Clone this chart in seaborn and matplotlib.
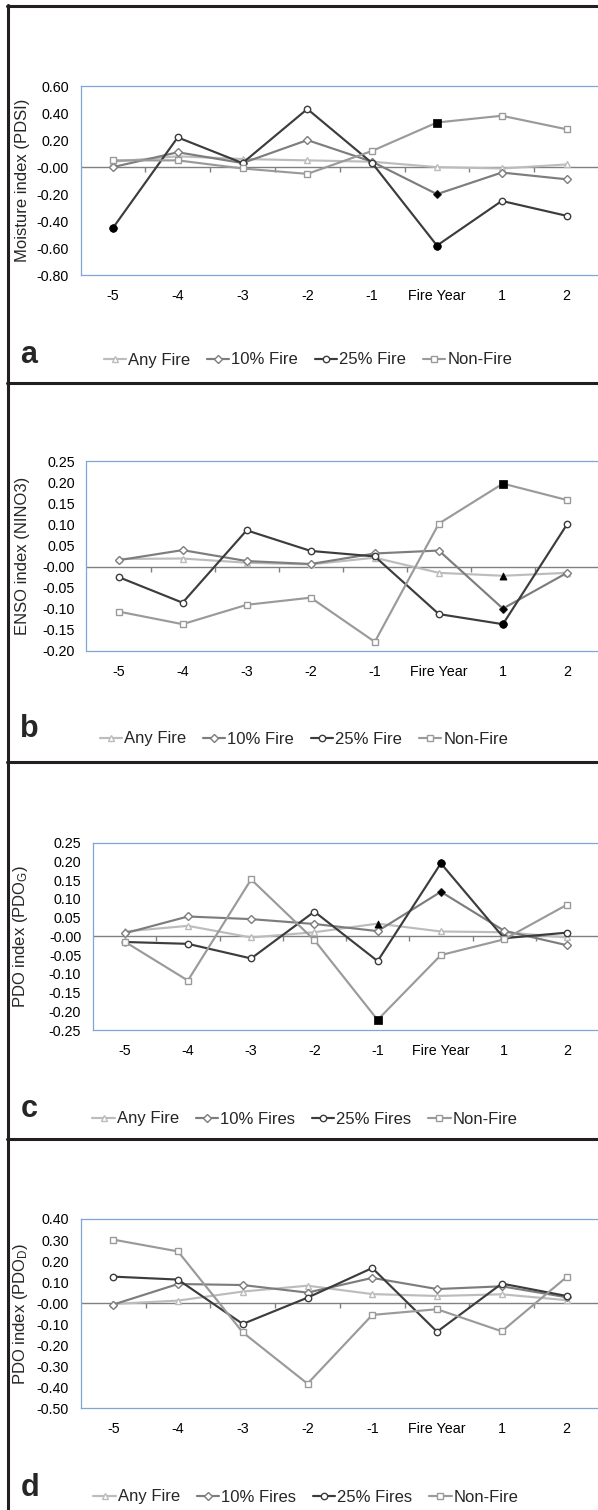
import numpy as np
import pandas as pd
import matplotlib
matplotlib.use("Agg")
import matplotlib.pyplot as plt
import seaborn as sns
from matplotlib.lines import Line2D
from matplotlib import transforms
from matplotlib.ticker import FormatStrFormatter

# ---------------- data ----------------
years = ["-5", "-4", "-3", "-2", "-1", "Fire Year", "1", "2"]

# (a) PDSI
pdsi_any = [0.04, 0.08, 0.06, 0.05, 0.04, 0.00, -0.01, 0.02]
pdsi_10 = [0.00, 0.11, 0.03, 0.20, 0.04, -0.20, -0.04, -0.09]
pdsi_25 = [-0.45, 0.22, 0.03, 0.43, 0.03, -0.58, -0.25, -0.36]
pdsi_non = [0.05, 0.05, -0.01, -0.05, 0.12, 0.33, 0.38, 0.28]

# (b) NINO3
nino_any = [0.018, 0.019, 0.009, 0.005, 0.021, -0.015, -0.022, -0.015]
nino_10 = [0.015, 0.039, 0.013, 0.006, 0.031, 0.038, -0.100, -0.015]
nino_25 = [-0.025, -0.086, 0.086, 0.037, 0.024, -0.113, -0.137, 0.100]
nino_non = [-0.107, -0.137, -0.091, -0.074, -0.179, 0.102, 0.197, 0.158]

# (c) PDO_G
pdog_any = [0.013, 0.028, -0.003, 0.011, 0.034, 0.013, 0.011, -0.003]
pdog_10 = [0.008, 0.053, 0.046, 0.033, 0.014, 0.119, 0.015, -0.024]
pdog_25 = [-0.015, -0.020, -0.059, 0.066, -0.066, 0.195, -0.005, 0.010]
pdog_non = [-0.014, -0.118, 0.152, -0.010, -0.223, -0.050, -0.008, 0.085]

# (d) PDO_D
pdod_any = [-0.004, 0.012, 0.055, 0.083, 0.043, 0.034, 0.042, 0.014]
pdod_10 = [-0.007, 0.091, 0.086, 0.050, 0.120, 0.067, 0.080, 0.028]
pdod_25 = [0.126, 0.112, -0.099, 0.026, 0.167, -0.136, 0.093, 0.034]
pdod_non = [0.302, 0.246, -0.139, -0.383, -0.056, -0.029, -0.134, 0.124]

# significant (filled) points: indices into years
sig_a = {"any": [], "p10": [5], "p25": [0, 5], "non": [5]}
sig_b = {"any": [6], "p10": [6], "p25": [6], "non": [6]}
sig_c = {"any": [4], "p10": [5], "p25": [5], "non": [4]}
sig_d = {"any": [], "p10": [], "p25": [], "non": []}

labels_ab = ["Any Fire", "10% Fire", "25% Fire", "Non-Fire"]
labels_cd = ["Any Fire", "10% Fires", "25% Fires", "Non-Fire"]

# ---------------- style ----------------
sns.set_theme(style="white")
plt.rcParams['font.family'] = ['Liberation Sans', 'DejaVu Sans']
plt.rcParams['axes.unicode_minus'] = False
plt.rcParams['mathtext.fontset'] = 'custom'
plt.rcParams['mathtext.rm'] = 'Liberation Sans'
plt.rcParams['mathtext.it'] = 'Liberation Sans:italic'

keys = ["any", "p10", "p25", "non"]
styles = {
    "any": dict(color="#bcbcbc", marker="^", ms=4.8, sig_s=26),
    "p10": dict(color="#7d7d7d", marker="D", ms=3.6, sig_s=14),
    "p25": dict(color="#3c3c3c", marker="o", ms=4.6, sig_s=30),
    "non": dict(color="#9a9a9a", marker="s", ms=4.6, sig_s=30),
}
BLUE = "#7ea6d6"
ZERO = "#808080"

W, H = 598, 1510
fig = plt.figure(figsize=(W / 100, H / 100), dpi=100)


def fx(px):
    return px / W


def fy(py):
    return 1 - py / H


def panel(top, bottom, left, series, sig, ylim, step, ylabel, ylab_x,
          letter, letter_pos, leg_labels, leg_center):
    right = 599
    ax = fig.add_axes([fx(left), fy(bottom), fx(right) - fx(left), (bottom - top) / H])
    for k, lab in zip(keys, leg_labels):
        st = styles[k]
        df = pd.DataFrame({"year": years, "value": series[k]})
        sns.lineplot(data=df, x="year", y="value", ax=ax, sort=False,
                     color=st["color"], marker=st["marker"], markersize=st["ms"],
                     markerfacecolor="white", markeredgecolor=st["color"],
                     markeredgewidth=1.0, linewidth=1.55, label=lab, zorder=3)
    for k in keys:
        st = styles[k]
        idx = sig[k]
        if idx:
            sdf = pd.DataFrame({"year": [years[i] for i in idx],
                                "value": [series[k][i] for i in idx]})
            sns.scatterplot(data=sdf, x="year", y="value", ax=ax, marker=st["marker"],
                            color="black", edgecolor="black", s=st["sig_s"],
                            linewidth=0.5, legend=False, zorder=5)
    leg = ax.get_legend()
    if leg is not None:
        leg.remove()

    ax.set_xlim(-0.5, 7.5)
    ax.set_ylim(*ylim)
    ax.set_yticks(np.arange(ylim[0], ylim[1] + step / 2, step))
    ax.yaxis.set_major_formatter(FormatStrFormatter('%.2f'))
    ax.set_xticks(range(len(years)))
    ax.set_xticklabels(years)
    ax.set_xlabel("")
    ax.tick_params(axis='both', length=0, labelsize=10.3, labelcolor="black")
    ax.tick_params(axis='x', pad=10)
    ax.tick_params(axis='y', pad=8.5)

    # zero line with category-boundary ticks
    ax.axhline(0, color=ZERO, lw=1.0, zorder=2)
    tl = (ylim[1] - ylim[0]) * 5.0 / (bottom - top)
    ax.vlines(np.arange(0.5, len(years) - 0.5, 1.0), -tl, 0, color=ZERO, lw=1.0, zorder=2)

    for s in ["top", "left", "bottom"]:
        ax.spines[s].set_color(BLUE)
        ax.spines[s].set_linewidth(0.9)
    ax.spines["right"].set_visible(False)
    ax.set_facecolor("white")

    ax.set_ylabel(ylabel, fontsize=12, va="center")
    ax.yaxis.set_label_coords(fx(ylab_x), 0.5,
                              transform=transforms.blended_transform_factory(fig.transFigure, ax.transAxes))

    handles, labs = ax.get_legend_handles_labels()
    fig.legend(handles[:4], labs[:4], loc="center",
               bbox_to_anchor=(fx(leg_center[0]), fy(leg_center[1])),
               bbox_transform=fig.transFigure, ncol=4, frameon=False,
               fontsize=12, handlelength=1.35, handletextpad=0.12,
               columnspacing=1.0, borderaxespad=0, borderpad=0)

    fig.text(fx(letter_pos[0]), fy(letter_pos[1]), letter, fontsize=22,
             fontweight="bold", ha="center", va="baseline")
    return ax


panel(86, 275.3, 80.5,
      {"any": pdsi_any, "p10": pdsi_10, "p25": pdsi_25, "non": pdsi_non}, sig_a,
      (-0.8, 0.6), 0.2, "Moisture index (PDSI)", 22, "a", (29, 363), labels_ab, (308, 360))

panel(461.3, 650.7, 86.5,
      {"any": nino_any, "p10": nino_10, "p25": nino_25, "non": nino_non}, sig_b,
      (-0.2, 0.25), 0.05, "ENSO index (NINO3)", 23, "b", (29, 737), labels_ab, (304, 739))

panel(842.7, 1030, 93,
      {"any": pdog_any, "p10": pdog_10, "p25": pdog_25, "non": pdog_non}, sig_c,
      (-0.25, 0.25), 0.05, r"PDO index (PDO$_\mathrm{G}$)", 21, "c", (29, 1117), labels_cd, (305, 1119))

panel(1219, 1408.3, 80.8,
      {"any": pdod_any, "p10": pdod_10, "p25": pdod_25, "non": pdod_non}, sig_d,
      (-0.5, 0.4), 0.1, r"PDO index (PDO$_\mathrm{D}$)", 21, "d", (30, 1496), labels_cd, (306, 1497))

# outer frame lines of the figure panels
FRAME = "#231f20"
fig.add_artist(Line2D([fx(8), fx(8)], [fy(5), fy(1510)], transform=fig.transFigure,
                      color=FRAME, lw=2.2))
for yy in [6, 383, 762, 1139]:
    fig.add_artist(Line2D([fx(7), fx(598)], [fy(yy), fy(yy)], transform=fig.transFigure,
                          color=FRAME, lw=2.2))

fig.savefig("out.png", dpi=100, facecolor="white")
